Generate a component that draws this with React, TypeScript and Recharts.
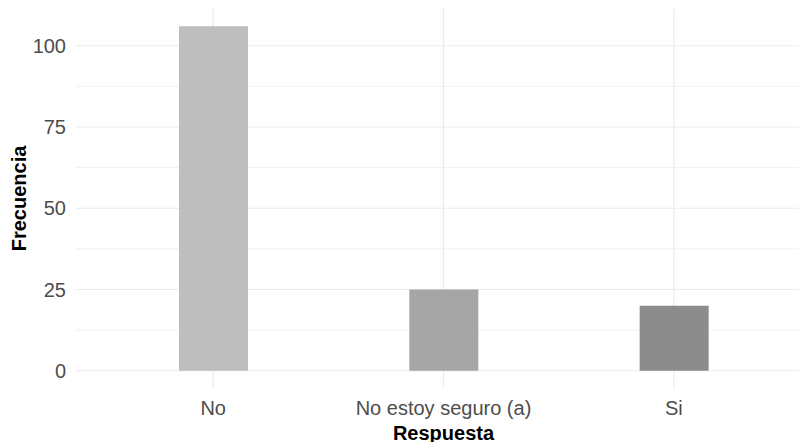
import { Bar, BarChart, CartesianGrid, Cell, XAxis, YAxis } from 'recharts'

const categorias = ['No', 'No estoy seguro (a)', 'Si']
const frecuencias = [106, 25, 20]
const colores = ['#BEBEBE', '#A6A6A6', '#8C8C8C']
const ticksY = [0, 25, 50, 75, 100]
const ticksMenores = [12.5, 37.5, 62.5, 87.5]

const data = categorias.map((respuesta, i) => ({
  respuesta,
  frecuencia: frecuencias[i],
}))

const fuente = '"Liberation Sans", Arial, sans-serif'

export default function App() {
  return (
    <div
      style={{
        position: 'absolute',
        left: 0,
        top: 0,
        width: 799,
        height: 442,
        overflow: 'hidden',
        background: '#fff',
      }}
    >
      <BarChart
        width={811}
        height={442}
        data={data}
        margin={{ top: 9, right: 0, left: 0, bottom: 0 }}
      >
        <CartesianGrid stroke="#EBEBEB" strokeWidth={1.2} syncWithTicks />
        <CartesianGrid
          stroke="#F0F0F0"
          strokeWidth={1}
          vertical={false}
          horizontalValues={ticksMenores}
          syncWithTicks
        />
        <XAxis
          dataKey="respuesta"
          padding={{ left: 22, right: 22 }}
          axisLine={false}
          tickLine={false}
          tickSize={0}
          tickMargin={13}
          height={54}
          tick={{ fill: '#4D4D4D', fontSize: 20, fontFamily: fuente }}
          label={{
            value: 'Respuesta',
            position: 'insideBottom',
            offset: 2,
            style: { fill: '#000', fontSize: 20, fontWeight: 700, fontFamily: fuente },
          }}
        />
        <YAxis
          type="number"
          domain={[-5.3, 111.3]}
          ticks={ticksY}
          width={76}
          axisLine={false}
          tickLine={false}
          tickSize={0}
          tickMargin={10}
          tick={{ fill: '#4D4D4D', fontSize: 20, fontFamily: fuente }}
          label={{
            value: 'Frecuencia',
            angle: -90,
            position: 'insideLeft',
            offset: 19,
            style: {
              fill: '#000',
              fontSize: 20,
              fontWeight: 700,
              fontFamily: fuente,
              textAnchor: 'middle',
            },
          }}
        />
        <Bar dataKey="frecuencia" barSize={69} isAnimationActive={false}>
          {data.map((d, i) => (
            <Cell key={d.respuesta} fill={colores[i]} />
          ))}
        </Bar>
      </BarChart>
    </div>
  )
}
